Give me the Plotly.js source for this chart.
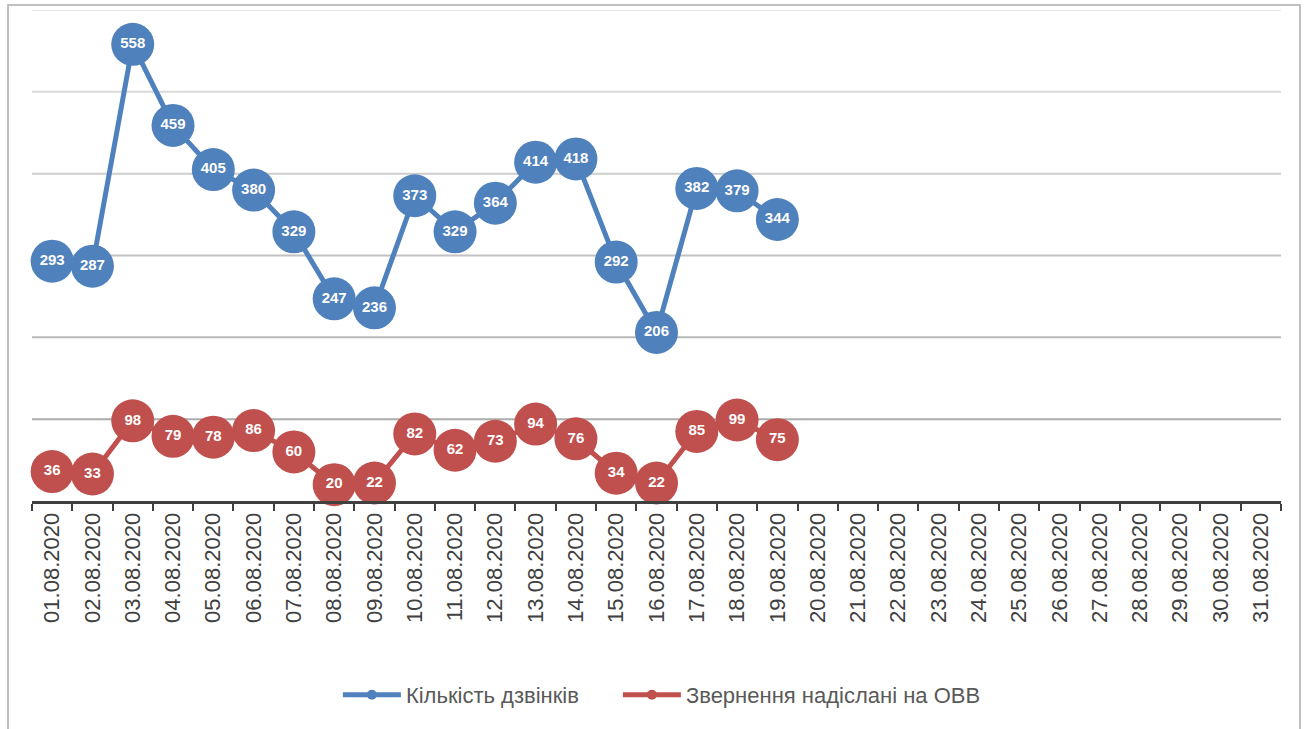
<!DOCTYPE html>
<html>
<head>
<meta charset="utf-8">
<script src="https://cdn.plot.ly/plotly-3.0.1.min.js"></script>
<style>
html,body{margin:0;padding:0;background:#fff;}
#chart{width:1306px;height:729px;}
</style>
</head>
<body>
<div id="chart"></div>
<script>
const dates = [
  "01.08.2020","02.08.2020","03.08.2020","04.08.2020","05.08.2020","06.08.2020","07.08.2020",
  "08.08.2020","09.08.2020","10.08.2020","11.08.2020","12.08.2020","13.08.2020","14.08.2020",
  "15.08.2020","16.08.2020","17.08.2020","18.08.2020","19.08.2020","20.08.2020","21.08.2020",
  "22.08.2020","23.08.2020","24.08.2020","25.08.2020","26.08.2020","27.08.2020","28.08.2020",
  "29.08.2020","30.08.2020","31.08.2020"
];
const calls = [293,287,558,459,405,380,329,247,236,373,329,364,414,418,292,206,382,379,344,
  null,null,null,null,null,null,null,null,null,null,null,null];
const appeals = [36,33,98,79,78,86,60,20,22,82,62,73,94,76,34,22,85,99,75,
  null,null,null,null,null,null,null,null,null,null,null,null];
const seriesNames = ["Кількість дзвінків","Звернення надіслані на ОВВ"];
const colors = ["#4F81BD","#C0504D"];
const gridValues = [100,200,300,400,500,600];
const gridColors = ["#acacac","#b8b8b8","#c2c2c2","#cdcdcd","#dadada","#e6e6e6"];

function seriesTrace(y, color) {
  return {
    type: "scatter",
    mode: "lines+markers+text",
    x: dates,
    y: y,
    text: y.map(v => v === null ? "" : String(v)),
    textposition: "middle center",
    textfont: {family: "Liberation Sans", size: 15, color: "#ffffff", weight: "bold"},
    line: {color: color, width: 5},
    marker: {color: color, size: 43},
    connectgaps: false,
    cliponaxis: false,
    showlegend: false,
    hoverinfo: "skip"
  };
}
function legendTrace(name, color, legendId) {
  return {
    type: "scatter",
    mode: "lines+markers",
    x: [null], y: [null],
    name: name,
    legend: legendId,
    line: {color: color, width: 5},
    marker: {color: color, size: 10},
    showlegend: true,
    hoverinfo: "skip"
  };
}

const data = [
  seriesTrace(calls, colors[0]),
  seriesTrace(appeals, colors[1]),
  legendTrace(seriesNames[0], colors[0], "legend"),
  legendTrace(seriesNames[1], colors[1], "legend2")
];

const shapes = [
  {type: "rect", xref: "paper", yref: "paper",
   x0: -0.0192, x1: 1.0152, y0: -0.7, y1: 1.0102,
   line: {color: "#bfbfbf", width: 2}, fillcolor: "rgba(0,0,0,0)", layer: "below"}
];
gridValues.forEach((v, i) => {
  shapes.push({type: "line", xref: "paper", yref: "y", x0: 0, x1: 1, y0: v, y1: v,
    line: {color: gridColors[i], width: 2}, layer: "below"});
});

const legendStyle = {
  orientation: "h",
  xanchor: "left",
  y: -0.395, yanchor: "middle",
  font: {family: "Liberation Sans", size: 22, color: "#595959"},
  itemwidth: 58,
  bgcolor: "rgba(0,0,0,0)"
};

const layout = {
  width: 1306, height: 729,
  margin: {l: 32, r: 25, t: 10, b: 228, pad: 0},
  paper_bgcolor: "#ffffff",
  plot_bgcolor: "#ffffff",
  font: {family: "Liberation Sans", color: "#404040"},
  showlegend: true,
  legend: Object.assign({}, legendStyle, {x: 0.2449}),
  legend2: Object.assign({}, legendStyle, {x: 0.4691}),
  xaxis: {
    type: "category",
    categoryorder: "array",
    categoryarray: dates,
    range: [-0.5, 30.5],
    tickangle: -90,
    tickfont: {family: "Liberation Sans", size: 22, color: "#404040"},
    showline: true, linecolor: "#404040", linewidth: 3,
    ticks: "outside", tickson: "boundaries", ticklen: 7, tickwidth: 2, tickcolor: "#404040",
    showgrid: false, zeroline: false, fixedrange: true
  },
  yaxis: {
    range: [0, 600],
    showticklabels: false,
    ticks: "",
    showgrid: false,
    zeroline: false, showline: false, fixedrange: true
  },
  shapes: shapes
};

Plotly.newPlot("chart", data, layout, {staticPlot: true, displayModeBar: false});
</script>
</body>
</html>
